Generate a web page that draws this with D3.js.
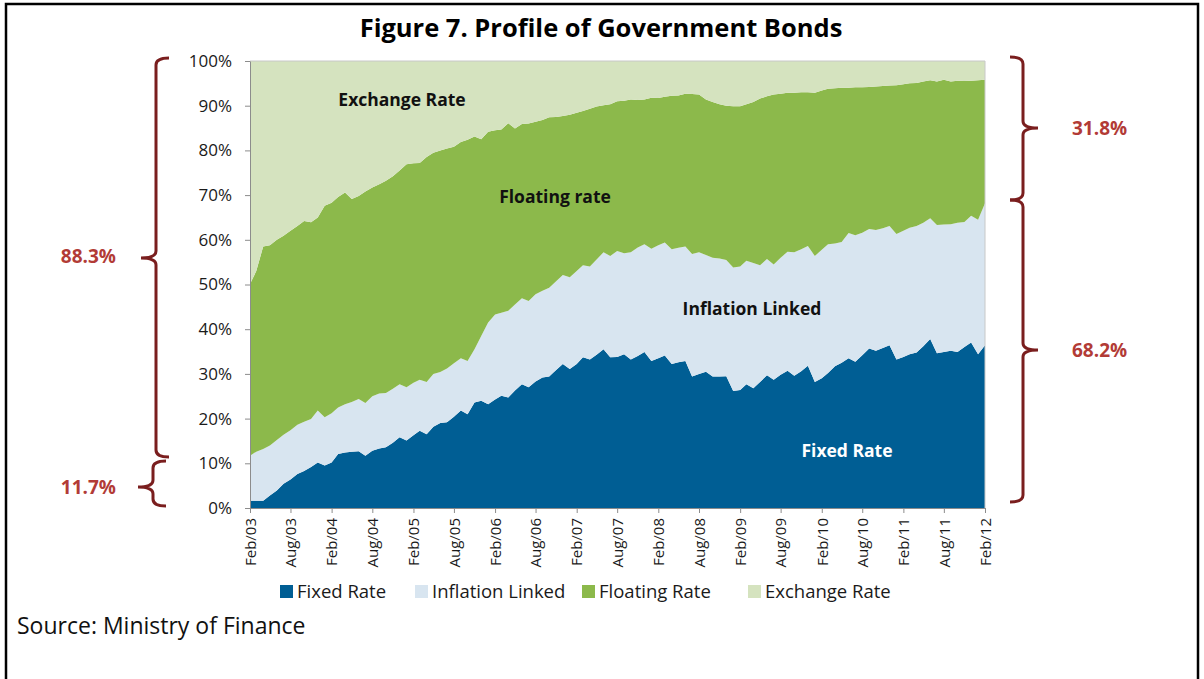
<!DOCTYPE html>
<html>
<head>
<meta charset="utf-8">
<script src="https://cdnjs.cloudflare.com/ajax/libs/d3/7.8.5/d3.min.js"></script>
<style>
  body { margin: 0; background: #fff; }
</style>
</head>
<body>
<svg id="chart" width="1204" height="679" font-family="'Open Sans', sans-serif"></svg>
<script>
// monthly shares (%), Feb/03 .. Feb/12
var fixedRate = [1.6,1.6,1.6,2.8,3.9,5.4,6.4,7.6,8.3,9.2,10.2,9.5,10.2,12.1,12.4,12.6,12.7,11.7,12.8,13.3,
  13.6,14.6,15.8,15.1,16.3,17.3,16.5,18.2,19.0,19.2,20.4,21.8,21.0,23.6,24.0,23.2,24.3,25.1,24.7,26.3,
  27.7,27.0,28.3,29.2,29.4,30.9,32.2,31.1,32.2,33.7,33.2,34.3,35.5,33.7,33.8,34.4,33.2,34.0,34.9,32.9,
  33.5,34.1,32.2,32.6,32.9,29.4,30.0,30.5,29.4,29.4,29.5,26.2,26.4,27.7,26.8,28.2,29.7,28.7,29.8,30.7,
  29.6,30.6,31.8,28.2,29.0,30.2,31.7,32.5,33.5,32.7,34.2,35.7,35.2,35.8,36.4,33.2,33.8,34.4,34.8,36.2,
  37.8,34.6,34.9,35.2,34.9,36.0,37.0,34.4,36.4];
var inflationLinked = [10.1,11.0,11.6,11.2,11.3,11.0,11.0,11.0,11.0,10.7,11.6,10.8,11.0,10.4,10.8,11.1,11.7,11.8,12.2,12.3,
  12.1,12.1,11.9,11.9,11.7,11.4,11.7,11.8,11.4,12.0,12.0,11.7,11.9,11.9,14.5,18.3,19.0,18.6,19.4,19.2,
  19.2,19.3,19.5,19.4,19.9,19.8,19.9,20.5,20.8,20.6,20.8,21.3,21.7,22.7,23.7,22.6,24.0,24.3,24.1,25.1,
  25.3,25.3,25.7,25.6,25.6,27.4,27.2,26.1,26.6,26.4,26.0,27.6,27.6,27.6,28.0,26.1,26.0,25.8,26.2,26.6,
  27.6,27.3,26.8,28.2,28.8,28.8,27.5,27.0,28.0,28.3,27.4,26.7,27.0,26.8,26.7,28.1,28.2,28.3,28.3,27.6,
  27.0,28.7,28.5,28.3,28.9,28.0,28.4,30.1,31.8];
var floatingRate = [38.4,40.4,45.3,44.8,44.8,44.5,44.6,44.5,44.9,44.0,43.2,47.3,47.1,47.1,47.4,45.4,45.4,47.3,46.7,46.8,
  47.5,47.5,47.8,49.9,49.1,48.5,50.3,49.5,49.6,49.2,48.4,48.4,49.5,47.6,44.0,42.7,41.2,41.0,42.0,39.4,
  39.0,39.7,38.6,38.2,38.1,36.8,35.6,36.4,35.4,34.5,35.3,34.2,32.9,33.9,33.5,34.1,34.2,33.0,32.4,33.8,
  32.9,32.6,34.3,34.1,34.2,35.8,35.3,34.8,34.8,34.5,34.5,36.1,35.9,35.0,36.0,37.3,36.4,38.0,36.7,35.6,
  35.7,35.1,34.4,36.5,35.6,34.8,34.7,34.5,32.5,33.1,32.5,31.8,32.1,31.8,31.4,33.3,32.8,32.3,32.0,31.6,
  30.9,32.1,32.4,31.9,31.8,31.5,30.2,31.2,27.6];
var exchangeRate = [49.9,47.0,41.5,41.2,40.0,39.1,38.0,36.9,35.8,36.1,35.0,32.4,31.7,30.4,29.4,30.9,30.2,29.2,28.3,27.6,
  26.8,25.8,24.5,23.1,22.9,22.8,21.5,20.5,20.0,19.6,19.2,18.1,17.6,16.9,17.5,15.8,15.5,15.3,13.9,15.1,
  14.1,14.0,13.6,13.2,12.6,12.5,12.3,12.0,11.6,11.2,10.7,10.2,9.9,9.7,9.0,8.9,8.6,8.7,8.6,8.2,
  8.3,8.0,7.8,7.7,7.3,7.4,7.5,8.6,9.2,9.7,10.0,10.1,10.1,9.7,9.2,8.4,7.9,7.5,7.3,7.1,
  7.1,7.0,7.0,7.1,6.6,6.2,6.1,6.0,6.0,5.9,5.9,5.8,5.7,5.6,5.5,5.4,5.2,5.0,4.9,4.6,
  4.3,4.6,4.2,4.6,4.4,4.5,4.4,4.3,4.2];

var seriesNames = ["Fixed Rate", "Inflation Linked", "Floating Rate", "Exchange Rate"];
var seriesColors = ["#005e94", "#d8e5f0", "#8cb94b", "#d5e3bf"];
var tickLabels = ["Feb/03","Aug/03","Feb/04","Aug/04","Feb/05","Aug/05","Feb/06","Aug/06","Feb/07","Aug/07",
  "Feb/08","Aug/08","Feb/09","Aug/09","Feb/10","Aug/10","Feb/11","Aug/11","Feb/12"];
var yTicks = [0,10,20,30,40,50,60,70,80,90,100];

var months = d3.timeMonths(new Date(2003, 1, 1), new Date(2012, 2, 1));
var rows = months.map(function(m, i) {
  return {date: m, "Fixed Rate": fixedRate[i], "Inflation Linked": inflationLinked[i],
    "Floating Rate": floatingRate[i], "Exchange Rate": exchangeRate[i]};
});

var svg = d3.select("#chart");
var pLeft = 250, pRight = 985, pTop = 61, pBottom = 508;

// outer frame
svg.append("rect").attr("x", 6).attr("y", 4).attr("width", 1192).attr("height", 700)
  .attr("fill", "none").attr("stroke", "#000").attr("stroke-width", 2.5);

svg.append("text").attr("x", 601).attr("y", 37).attr("text-anchor", "middle")
  .attr("font-size", 25.5).attr("font-weight", "bold").attr("fill", "#000")
  .text("Figure 7. Profile of Government Bonds");

var x = d3.scaleTime().domain([months[0], months[months.length - 1]]).range([pLeft, pRight]);
var y = d3.scaleLinear().domain([0, 100]).range([pBottom, pTop]);

var stack = d3.stack().keys(seriesNames);
var layers = stack(rows);

var area = d3.area()
  .x(function(d) { return x(d.data.date); })
  .y0(function(d) { return y(d[0]); })
  .y1(function(d) { return y(d[1]); });

svg.append("g").selectAll("path").data(layers).enter().append("path")
  .attr("d", area)
  .attr("fill", function(d, i) { return seriesColors[i]; });

// plot frame
svg.append("path").attr("d", "M" + pLeft + "," + pTop + "H" + pRight + "V" + pBottom)
  .attr("fill", "none").attr("stroke", "#c8c8c8").attr("stroke-width", 1);

// y axis
var yAxis = d3.axisLeft(y).tickValues(yTicks).tickSize(5).tickSizeOuter(0)
  .tickFormat(function(d) { return d + "%"; });
var gy = svg.append("g").attr("transform", "translate(" + pLeft + ",0)").call(yAxis);
gy.attr("font-family", null).attr("font-size", null);
gy.select(".domain").attr("stroke", "#8c8c8c");
gy.selectAll(".tick line").attr("stroke", "#8c8c8c");
gy.selectAll(".tick text").attr("font-size", 17).attr("fill", "#1a1a1a").attr("x", -18);

// x axis
var tickDates = tickLabels.map(function(t, i) { return months[i * 6]; });
var xAxis = d3.axisBottom(x).tickValues(tickDates).tickSize(5).tickSizeOuter(0)
  .tickFormat(function(d, i) { return tickLabels[i]; });
var gx = svg.append("g").attr("transform", "translate(0," + pBottom + ")").call(xAxis);
gx.attr("font-family", null).attr("font-size", null);
gx.select(".domain").attr("stroke", "#8c8c8c");
gx.selectAll(".tick line").attr("stroke", "#8c8c8c");
gx.selectAll(".tick text").attr("font-size", 15).attr("fill", "#1a1a1a")
  .attr("transform", "rotate(-90)").attr("text-anchor", "end")
  .attr("x", -10).attr("y", 0).attr("dy", "0.35em");

// labels inside the areas
var inLabels = [
  {t: "Exchange Rate", x: 402, y: 106, c: "#111"},
  {t: "Floating rate", x: 555, y: 203, c: "#111"},
  {t: "Inflation Linked", x: 752, y: 315, c: "#111"},
  {t: "Fixed Rate", x: 847, y: 457, c: "#fff"}
];
svg.append("g").selectAll("text").data(inLabels).enter().append("text")
  .attr("x", function(d) { return d.x; }).attr("y", function(d) { return d.y; })
  .attr("text-anchor", "middle").attr("font-size", 17.5).attr("font-weight", "bold")
  .attr("fill", function(d) { return d.c; }).text(function(d) { return d.t; });

// legend
var legendX = [280, 415, 582, 748];
var lg = svg.append("g").selectAll("g").data(seriesNames).enter().append("g")
  .attr("transform", function(d, i) { return "translate(" + legendX[i] + ",585)"; });
lg.append("rect").attr("width", 13).attr("height", 13)
  .attr("fill", function(d, i) { return seriesColors[i]; });
lg.append("text").attr("x", 17).attr("y", 13).attr("font-size", 18.5).attr("fill", "#1a1a1a")
  .text(function(d) { return d; });

svg.append("text").attr("x", 17).attr("y", 634).attr("font-size", 23).attr("fill", "#111")
  .text("Source: Ministry of Finance");

// braces
function brace(xv, y0, y1, tipY, dir) {
  var s = 13 * dir, t = -15 * dir, r = 7;
  var p = d3.path();
  p.moveTo(xv + s, y0);
  p.quadraticCurveTo(xv, y0, xv, y0 + r);
  p.lineTo(xv, tipY - r);
  p.quadraticCurveTo(xv, tipY, xv + t, tipY);
  p.quadraticCurveTo(xv, tipY, xv, tipY + r);
  p.lineTo(xv, y1 - r);
  p.quadraticCurveTo(xv, y1, xv + s, y1);
  return p.toString();
}
var braces = [
  {xv: 156, y0: 58, y1: 457, tip: 258, dir: 1},
  {xv: 153, y0: 461, y1: 506, tip: 487, dir: 1},
  {xv: 1023, y0: 57, y1: 200, tip: 128, dir: -1},
  {xv: 1023, y0: 200, y1: 502, tip: 350, dir: -1}
];
svg.append("g").selectAll("path").data(braces).enter().append("path")
  .attr("d", function(d) { return brace(d.xv, d.y0, d.y1, d.tip, d.dir); })
  .attr("fill", "none").attr("stroke", "#7a1e1e").attr("stroke-width", 3);

var shareLabels = [
  {t: "88.3%", x: 116, y: 263, a: "end"},
  {t: "11.7%", x: 116, y: 494, a: "end"},
  {t: "31.8%", x: 1072, y: 135, a: "start"},
  {t: "68.2%", x: 1072, y: 357, a: "start"}
];
svg.append("g").selectAll("text").data(shareLabels).enter().append("text")
  .attr("x", function(d) { return d.x; }).attr("y", function(d) { return d.y; })
  .attr("text-anchor", function(d) { return d.a; })
  .attr("font-size", 19).attr("font-weight", "bold").attr("fill", "#b23b36")
  .text(function(d) { return d.t; });
</script>
</body>
</html>
